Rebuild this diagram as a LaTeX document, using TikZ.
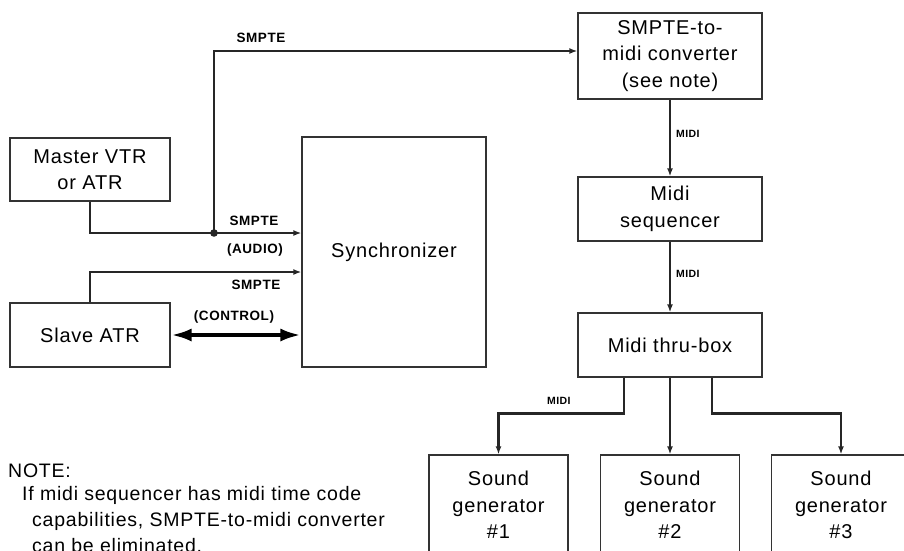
\documentclass[tikz,border=0pt]{standalone}
\usepackage{fontspec}
\setmainfont{Liberation Sans}[LetterSpace=4]
\usetikzlibrary{positioning, arrows.meta, calc}

\begin{document}
\begin{tikzpicture}[
    >={Latex[length=8pt,width=6pt]},
    font=\fontsize{20}{26.5}\selectfont,
    unit/.style={
        draw=black!80, line width=1.3pt,
        minimum width=184pt, minimum height=64pt,
        inner sep=0pt, align=center,
    },
    sgen/.style={unit, minimum width=139pt, minimum height=100pt},
    sig/.style={->, line width=2.8pt, draw=black!85},
    link/.style={<->, line width=4.5pt, draw=black,
        >={Latex[length=21pt,width=13pt]}},
    tag/.style={font=\fontsize{13.5}{15}\selectfont\bfseries, inner sep=0pt},
    miditag/.style={font=\fontsize{10.5}{12}\selectfont\bfseries,
        inner sep=0pt, anchor=west},
    notetext/.style={anchor=base west, inner sep=0pt,
        font=\fontsize{19.5}{24}\selectfont},
]

\useasboundingbox (0,0) rectangle (904pt,-550pt);
\clip (0,0) rectangle (904pt,-550pt);

\def\colL{90}
\def\colS{394}
\def\colR{670}

\node[unit, minimum width=160pt, minimum height=63pt] (master) at (\colL pt,-169.5pt) {Master VTR\\or ATR};
\node[unit, minimum width=160pt] (slave) at (\colL pt,-335pt) {Slave ATR};
\node[unit, minimum height=230pt] (sync) at (\colS pt,-252pt) {Synchronizer};

\node[unit, minimum height=86pt] (conv) at (\colR pt,-56pt) {SMPTE-to-\\midi converter\\(see note)};
\node[unit] (seq) at (\colR pt,-209pt) {Midi\\sequencer};
\node[unit] (thru) at (\colR pt,-345pt) {Midi thru-box};

\node[sgen] (sg1) at (498.5pt,-505pt) {Sound\\generator\\\#1};
\node[sgen] (sg2) at (\colR pt,-505pt) {Sound\\generator\\\#2};
\node[sgen] (sg3) at (841pt,-505pt) {Sound\\generator\\\#3};

% smpte side
\coordinate (jn) at (214pt,-233pt);
\draw[sig] (master.south) |- (jn) -- (jn -| sync.west);
\draw[sig] (jn) |- ([yshift=5pt]conv.west);
\fill[black!85] (jn) circle (3.8pt);
\draw[sig] (slave.north) |- ([yshift=-20pt]sync.west);
\draw[link] (slave.east) -- (slave.east -| sync.west);

\node[tag] (tsmpte1) at (261pt,-38pt) {SMPTE};
\node[tag] (tsmpte2) at (254pt,-221pt) {SMPTE};
\node[tag] (taudio) at (255pt,-250pt) {(AUDIO)};
\node[tag] (tsmpte3) at (256pt,-285pt) {SMPTE};
\node[tag] (tctrl) at (234pt,-317pt) {(CONTROL)};

% midi side
\draw[sig] (conv.south) -- (seq.north);
\draw[sig] (seq.south) -- (thru.north);
\draw[sig] ([xshift=-46pt]thru.south) -- ++(0,-36pt) -| (sg1.north);
\draw[sig] (thru.south) -- (sg2.north);
\draw[sig] ([xshift=42pt]thru.south) -- ++(0,-36pt) -| (sg3.north);

\node[miditag] (tmidi1) at (676pt,-134pt) {MIDI};
\node[miditag] (tmidi2) at (676pt,-274pt) {MIDI};
\node[miditag] (tmidi3) at (547pt,-401pt) {MIDI};

% note
\node[notetext] (nhead) at (8pt,-477pt) {NOTE:};
\node[notetext] (nline1) at (22pt,-500pt) {If midi sequencer has midi time code};
\node[notetext] (nline2) at (32pt,-526pt) {capabilities, SMPTE-to-midi converter};
\node[notetext] (nline3) at (32pt,-552pt) {can be eliminated.};

\end{tikzpicture}
\end{document}
